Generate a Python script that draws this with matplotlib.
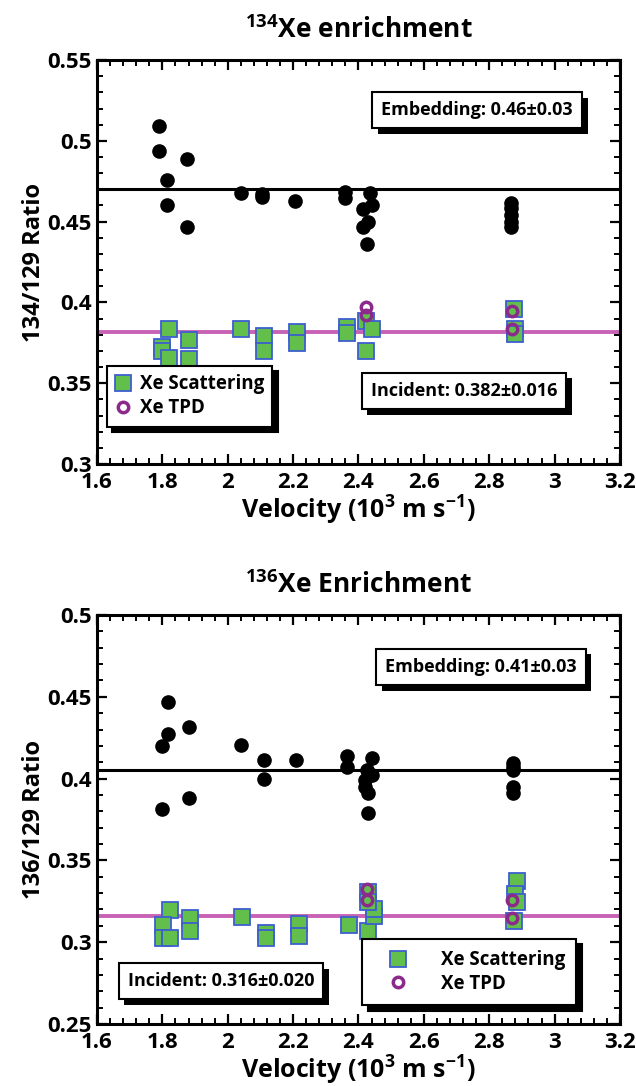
import matplotlib
matplotlib.use("Agg")
import matplotlib.pyplot as plt
import matplotlib.patheffects as pe
from matplotlib.ticker import MultipleLocator, FormatStrFormatter

plt.rcParams['font.family'] = ['Open Sans', 'DejaVu Sans']
plt.rcParams['font.weight'] = 'bold'
plt.rcParams['mathtext.fontset'] = 'custom'
plt.rcParams['mathtext.bf'] = 'Open Sans:bold'
plt.rcParams['mathtext.rm'] = 'Open Sans:bold'
plt.rcParams['mathtext.default'] = 'bf'

# -----------------------------
# DATA: 134Xe panel
# -----------------------------
emb134_v = [1.79, 1.79, 1.815, 1.815, 1.876, 1.876, 2.04, 2.105, 2.105, 2.205,
            2.36, 2.36, 2.435, 2.44, 2.415, 2.43, 2.415, 2.425,
            2.868, 2.868, 2.868, 2.868, 2.868]
emb134_r = [0.509, 0.494, 0.476, 0.460, 0.489, 0.447, 0.4675, 0.467, 0.465, 0.463,
            0.4685, 0.4645, 0.4675, 0.4605, 0.4578, 0.450, 0.447, 0.436,
            0.4615, 0.4585, 0.454, 0.450, 0.447]
sc134_v = [1.82, 1.80, 1.80, 1.82, 1.88, 1.88, 2.042, 2.111, 2.111, 2.212, 2.212,
           2.365, 2.365, 2.423, 2.441, 2.423, 2.875, 2.878, 2.88]
sc134_r = [0.3834, 0.3727, 0.370, 0.3657, 0.377, 0.365, 0.3834, 0.379, 0.370, 0.3817, 0.3747,
           0.385, 0.3813, 0.3886, 0.3834, 0.370, 0.3957, 0.3834, 0.3806]
tpd134_v = [2.423, 2.423, 2.87, 2.87]
tpd134_r = [0.397, 0.3925, 0.395, 0.3834]
emb134_line = 0.47
inc134_line = 0.382

# -----------------------------
# DATA: 136Xe panel
# -----------------------------
emb136_v = [1.80, 1.80, 1.818, 1.818, 1.881, 1.881, 2.042, 2.11, 2.11, 2.21,
            2.364, 2.364, 2.44, 2.425, 2.44, 2.42, 2.42, 2.43, 2.43,
            2.873, 2.873, 2.873, 2.873, 2.873]
emb136_r = [0.420, 0.3816, 0.4466, 0.4273, 0.4313, 0.388, 0.4205, 0.4112, 0.3996, 0.4116,
            0.4136, 0.4071, 0.4128, 0.4053, 0.402, 0.399, 0.3951, 0.391, 0.3788,
            0.4093, 0.4072, 0.4052, 0.3951, 0.391]
sc136_v = [1.822, 1.803, 1.803, 1.822, 1.885, 1.885, 2.044, 2.116, 2.116, 2.217, 2.217,
           2.37, 2.428, 2.447, 2.447, 2.43, 2.43, 2.885, 2.88, 2.885, 2.875]
sc136_r = [0.3197, 0.3108, 0.3023, 0.3027, 0.315, 0.307, 0.3154, 0.3054, 0.3023, 0.3112, 0.304,
           0.3103, 0.307, 0.316, 0.320, 0.3307, 0.3244, 0.3375, 0.3297, 0.3244, 0.3128]
tpd136_v = [2.425, 2.425, 2.87, 2.87]
tpd136_r = [0.3324, 0.3258, 0.3258, 0.315]
emb136_line = 0.4055
inc136_line = 0.316

GREEN = '#63bf4c'
BLUE = '#3d5fcf'
PURPLE = '#8c2a8c'
PINK = '#c862b4'

BOX_SHADOW = [pe.SimplePatchShadow(offset=(4, -4), shadow_rgbFace='black', alpha=1),
              pe.Normal()]


def shadow_text(ax, x, y, s, fs=13):
    box = dict(boxstyle='square,pad=0.5', fc='white', ec='black', lw=1.5)
    t = ax.text(x, y, s, transform=ax.transAxes, ha='center', va='center',
                fontsize=fs, fontweight='bold', color='black', bbox=box, zorder=9)
    t.get_bbox_patch().set_path_effects(BOX_SHADOW)


def panel(ax, ev, er, sv, sr, tv, tr, eline, iline, ylo, yhi, ylabel, title):
    ax.axhline(eline, color='black', lw=2.2, zorder=1)
    ax.axhline(iline, color=PINK, lw=2.8, zorder=1)
    ax.plot(ev, er, 'o', color='black', ms=9.5, zorder=3)
    ax.plot(sv, sr, 's', mfc=GREEN, mec=BLUE, mew=1.3, ms=11, ls='none',
            label='Xe Scattering', zorder=4)
    ax.plot(tv, tr, 'o', mfc='none', mec=PURPLE, mew=2.5, ms=7.5, ls='none',
            label='Xe TPD', zorder=5)
    ax.set_xlim(1.6, 3.2)
    ax.set_ylim(ylo, yhi)
    ax.xaxis.set_major_locator(MultipleLocator(0.2))
    ax.xaxis.set_minor_locator(MultipleLocator(0.04))
    ax.yaxis.set_major_locator(MultipleLocator(0.05))
    ax.yaxis.set_minor_locator(MultipleLocator(0.01))
    ax.xaxis.set_major_formatter(FormatStrFormatter('%g'))
    ax.yaxis.set_major_formatter(FormatStrFormatter('%g'))
    ax.tick_params(which='both', direction='in', top=True, right=True, labelsize=16)
    ax.tick_params(axis='x', pad=6)
    ax.tick_params(axis='y', pad=4)
    ax.tick_params(which='major', length=7, width=1.6)
    ax.tick_params(which='minor', length=4, width=1.4)
    for sp in ax.spines.values():
        sp.set_linewidth(2.2)
    ax.set_xlabel(r'Velocity (10$^3$ m s$^{-1}$)', fontsize=18, fontweight='bold', labelpad=0)
    ax.set_ylabel(ylabel, fontsize=17, fontweight='bold', labelpad=1)
    ax.set_title(title, fontsize=19, fontweight='bold', pad=16)


fig = plt.figure(figsize=(6.36, 10.86), dpi=100)
ax1 = fig.add_axes([0.1525, 0.5727, 0.8223, 0.372])
ax2 = fig.add_axes([0.1525, 0.0571, 0.8223, 0.3766])

panel(ax1, emb134_v, emb134_r, sc134_v, sc134_r, tpd134_v, tpd134_r,
      emb134_line, inc134_line, 0.3, 0.55, '134/129 Ratio', r'$^{134}$Xe enrichment')
panel(ax2, emb136_v, emb136_r, sc136_v, sc136_r, tpd136_v, tpd136_r,
      emb136_line, inc136_line, 0.25, 0.5, '136/129 Ratio', r'$^{136}$Xe Enrichment')

shadow_text(ax1, 0.727, 0.876, 'Embedding: 0.46±0.03')
shadow_text(ax1, 0.702, 0.181, 'Incident: 0.382±0.016')
shadow_text(ax2, 0.734, 0.873, 'Embedding: 0.41±0.03')
shadow_text(ax2, 0.237, 0.105, 'Incident: 0.316±0.020')

shadow = {'ox': 4, 'oy': -4, 'facecolor': 'black', 'edgecolor': 'black', 'alpha': 1}
leg1 = ax1.legend(loc='upper left', bbox_to_anchor=(0.019, 0.243), fontsize=13.5,
                  frameon=True, fancybox=False, edgecolor='black', framealpha=1,
                  shadow=shadow, handlelength=0.8, handletextpad=0.5,
                  borderpad=0.45, labelspacing=0.2, borderaxespad=0)
leg1.get_frame().set_linewidth(1.5)
leg1.set_zorder(10)
leg2 = ax2.legend(loc='upper left', bbox_to_anchor=(0.507, 0.208), fontsize=13.5,
                  frameon=True, fancybox=False, edgecolor='black', framealpha=1,
                  shadow=shadow, handlelength=2.6, handletextpad=1.0,
                  borderpad=0.6, labelspacing=0.2, borderaxespad=0)
leg2.get_frame().set_linewidth(1.5)
leg2.set_zorder(10)

plt.savefig("out.png", dpi=100)
